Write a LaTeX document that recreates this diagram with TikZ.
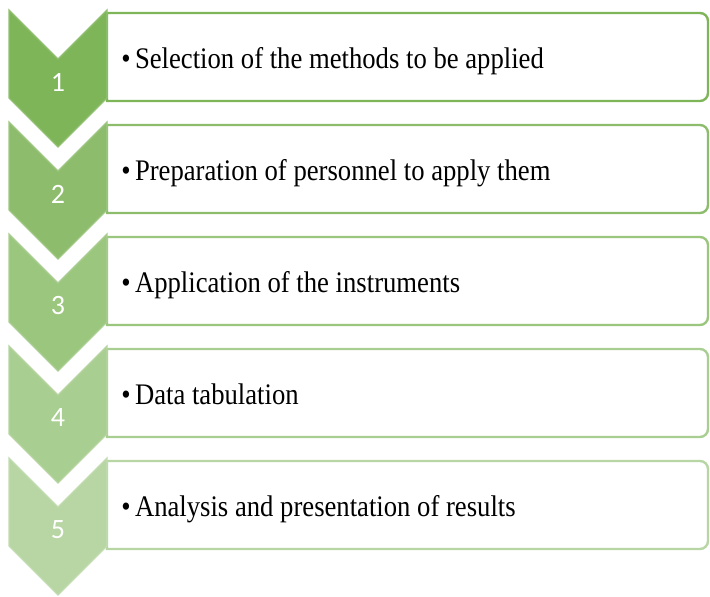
\documentclass[tikz,border=0pt]{standalone}
\usepackage{fontspec}
\usepackage{graphicx}
\setmainfont{Liberation Serif}
\newfontfamily\numfont{Carlito}
\definecolor{leaf}{HTML}{70AD47}
\tikzset{
    chev/.style={fill=leaf!#1!white, draw=leaf!#1!white!85!white, line width=1pt, line join=miter},
    stepbox/.style={draw=leaf!#1!white, line width=1.8pt, fill=white},
    numlabel/.style={text=white, inner sep=0pt, font=\numfont\fontsize{21}{24}\selectfont},
    itemtext/.style={anchor=base west, inner sep=0pt, font=\fontsize{20}{24}\selectfont}
}
\newcommand{\tallbox}[1]{\scalebox{1}[1.12]{#1}}
\begin{document}
\begin{tikzpicture}[x=0.75pt,y=0.75pt]
\useasboundingbox (0,0) rectangle (710,596);

    % boxes
    \draw[stepbox=90] (107,495) -- (107,583) -- (700,583) arc[start angle=90,end angle=0,radius=6pt] -- (708,503) arc[start angle=0,end angle=-90,radius=6pt] -- cycle;
    \draw[stepbox=80] (107,383) -- (107,471) -- (700,471) arc[start angle=90,end angle=0,radius=6pt] -- (708,391) arc[start angle=0,end angle=-90,radius=6pt] -- cycle;
    \draw[stepbox=70] (107,271) -- (107,359) -- (700,359) arc[start angle=90,end angle=0,radius=6pt] -- (708,279) arc[start angle=0,end angle=-90,radius=6pt] -- cycle;
    \draw[stepbox=60] (107,159) -- (107,247) -- (700,247) arc[start angle=90,end angle=0,radius=6pt] -- (708,167) arc[start angle=0,end angle=-90,radius=6pt] -- cycle;
    \draw[stepbox=50] (107,47) -- (107,135) -- (700,135) arc[start angle=90,end angle=0,radius=6pt] -- (708,55) arc[start angle=0,end angle=-90,radius=6pt] -- cycle;

    % chevrons
    \draw[chev=90] (9,586) -- (58,537) -- (107,586) -- (107,498) -- (58,449) -- (9,498) -- cycle;
    \draw[chev=80] (9,474) -- (58,425) -- (107,474) -- (107,386) -- (58,337) -- (9,386) -- cycle;
    \draw[chev=70] (9,362) -- (58,313) -- (107,362) -- (107,274) -- (58,225) -- (9,274) -- cycle;
    \draw[chev=60] (9,250) -- (58,201) -- (107,250) -- (107,162) -- (58,113) -- (9,162) -- cycle;
    \draw[chev=50] (9,138) -- (58,89) -- (107,138) -- (107,50) -- (58,1) -- (9,50) -- cycle;

    \node[numlabel] (n1) at (58,514) {1};
    \node[numlabel] (n2) at (58,402) {2};
    \node[numlabel] (n3) at (58,290) {3};
    \node[numlabel] (n4) at (58,178) {4};
    \node[numlabel] (n5) at (58,66) {5};

    \node[itemtext] (t1) at (121,527) {\tallbox{\textbullet\,Selection of the methods to be applied}};
    \node[itemtext] (t2) at (121,415) {\tallbox{\textbullet\,Preparation of personnel to apply them}};
    \node[itemtext] (t3) at (121,303) {\tallbox{\textbullet\,Application of the instruments}};
    \node[itemtext] (t4) at (121,191) {\tallbox{\textbullet\,Data tabulation}};
    \node[itemtext] (t5) at (121,79) {\tallbox{\textbullet\,Analysis and presentation of results}};
\end{tikzpicture}
\end{document}
